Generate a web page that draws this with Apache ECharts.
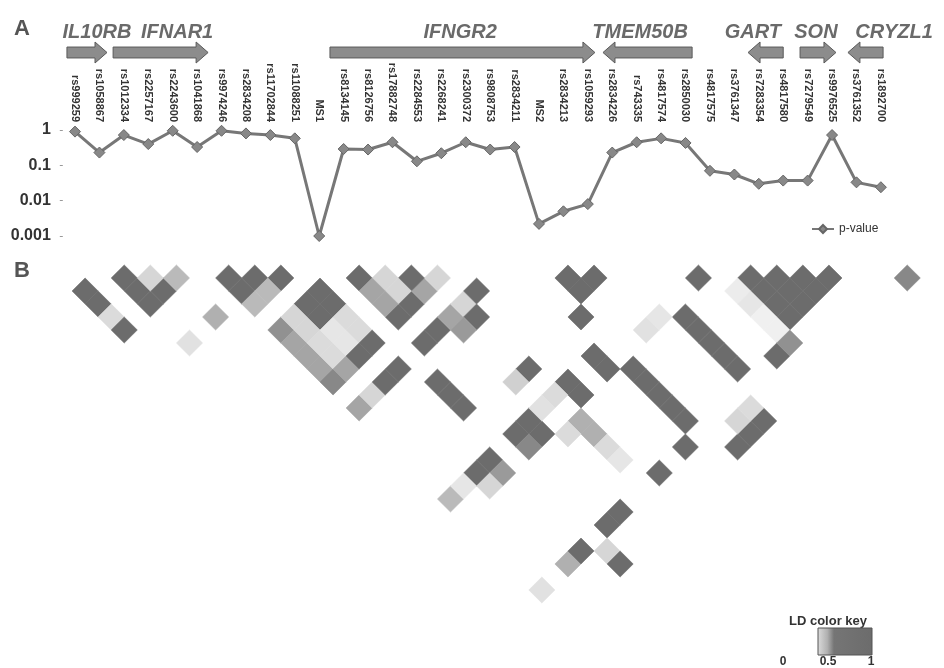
<!DOCTYPE html>
<html><head><meta charset="utf-8">
<script src="https://cdn.jsdelivr.net/npm/echarts/dist/echarts.min.js"></script>
<style>html,body{margin:0;padding:0;background:#fff}#c{width:944px;height:668px}</style>
</head><body><div id="c"></div>
<script>
const markers = ['rs999259','rs1058867','rs1012334','rs2257167','rs2243600','rs1041868','rs9974246','rs2834208','rs11702844','rs11088251','MS1','rs8134145','rs8126756','rs17882748','rs2284553','rs2268241','rs2300372','rs9808753','rs2834211','MS2','rs2834213','rs1059293','rs2834226','rs743335','rs4817574','rs2850030','rs4817575','rs3761347','rs7283354','rs4817580','rs7279549','rs9976525','rs3761352','rs1892700'];
const pValues = [0.9,0.23,0.72,0.4,0.95,0.33,0.95,0.8,0.72,0.58,0.001,0.29,0.28,0.45,0.13,0.22,0.45,0.28,0.33,0.0022,0.005,0.008,0.23,0.45,0.58,0.43,0.07,0.055,0.03,0.037,0.037,0.72,0.033,0.024];
const yTickLabels = ['0.001','0.01','0.1','1'];

const geneNames  = ['IL10RB','IFNAR1','IFNGR2','TMEM50B','GART','SON','CRYZL1'];
const geneStart  = [-0.33, 1.56, 10.44, 21.62, 27.56, 29.69, 31.65];
const geneEnd    = [1.31, 5.45, 21.29, 25.27, 29.0, 31.16, 33.09];
const geneStrand = [1, 1, 1, -1, -1, 1, -1];
const geneLabelAt = [0.90, 4.18, 15.77, 23.14, 27.76, 30.34, 33.54];

// LD cells: [marker i, marker j, LD value]
const ldPairs = [
 [0,2,1],[0,3,1],[0,4,0.4],[0,5,1],
 [2,3,1],[2,4,1],[2,5,1],[3,5,1],[3,4,0.45],[4,5,0.6],
 [4,8,0.65],[2,8,0.35],
 [6,7,1],[7,8,1],[8,9,1],[6,8,1],[7,9,0.6],[6,9,0.6],
 [8,11,1],[8,12,1],[9,11,1],[9,12,1],
 [6,11,0.8],[7,11,0.45],[6,12,0.7],[7,12,0.45],[6,13,0.7],[7,13,0.4],[6,14,0.7],[7,14,0.4],[8,13,0.3],[8,14,0.3],[9,13,0.4],[9,14,0.4],
 [6,15,0.85],[7,15,0.7],[8,15,1],[9,15,1],[11,15,1],[12,15,1],[13,15,0.7],[14,15,0.45],
 [11,12,1],[12,13,0.45],[13,14,1],[11,13,0.7],[12,14,0.45],[11,14,0.7],
 [6,17,0.7],[7,17,0.45],[8,17,1],[9,17,1],[11,17,1],[12,17,1],[13,17,0.7],[14,17,0.45],[15,17,1],
 [14,18,1],[13,18,0.75],
 [10,19,1],[10,20,1],[10,21,1],
 [19,20,1],[20,21,1],[19,21,1],[18,22,1],
 [14,22,1],[13,22,0.5],
 [15,24,1],[15,25,1],[17,24,1],[17,25,1],
 [18,26,1],[18,27,1],[18,28,1],[18,29,1],[18,30,1],
 [22,26,1],[22,27,1],[22,28,1],[22,29,1],[22,30,1],
 [20,25,0.35],[21,25,0.3],
 [24,25,1],
 [26,27,1],[27,28,1],[28,29,1],[29,30,1],[26,28,1],[27,29,1],[28,30,1],[26,29,1],[27,30,1],[26,30,1],
 [25,27,0.25],[25,28,0.3],[25,29,0.2],[25,30,0.2],
 [24,31,1],[25,31,0.8],
 [32,33,0.85],
 [11,24,1],[12,24,1],[12,25,1],[11,25,0.85],
 [8,24,1],[9,24,1],[9,25,0.75],[8,25,0.45],
 [6,24,0.6],[7,24,0.3],
 [14,24,0.4],[13,24,0.35],[14,26,0.65],[14,27,0.65],[13,26,0.4],[14,28,0.4],[14,29,0.3],
 [6,31,0.35],[8,31,0.65],[9,31,1],[11,31,1],[12,31,1],[15,31,1],[17,31,1],
 [10,32,0.45],[10,33,1],
 [19,33,1],[20,33,1],[21,33,1],[20,32,0.45],[21,32,0.4]
];
const ldKeyTicks = ['0','0.5','1'];
const ldColors = ['#ffffff','#ececec','#d0d0d0','#9a9a9a','#6c6c6c'];

const chart = echarts.init(document.getElementById('c'), null, {renderer:'canvas'});
const nM = markers.length;
const topLeft = 62.8, topWidth = 830.3;
const FF = "'Liberation Sans',Arial,sans-serif";

const option = {
  animation:false,
  backgroundColor:'#fff',
  grid:[
    {left:topLeft, width:topWidth, top:130, height:106},
    {left:topLeft, width:topWidth, top:42, height:21},
    {left:59, width:861.3, top:265, height:364}
  ],
  xAxis:[
    {type:'category', gridIndex:0, data:markers, position:'top', boundaryGap:true,
     axisLine:{show:false}, axisTick:{show:false}, splitLine:{show:false},
     axisLabel:{interval:0, rotate:90, margin:8, fontSize:11, fontWeight:'bold', color:'#333', fontFamily:FF}},
    {type:'value', gridIndex:1, min:-0.5, max:nM-0.5, show:false},
    {type:'value', gridIndex:2, min:0, max:66, show:false}
  ],
  yAxis:[
    {type:'log', gridIndex:0, logBase:10, min:0.001, max:1,
     axisLine:{show:false}, splitLine:{show:false},
     axisTick:{show:true, length:3, lineStyle:{color:'#999'}},
     axisLabel:{fontSize:16, fontWeight:'bold', color:'#333', margin:12, fontFamily:FF,
       formatter:(v)=>{ const k=Math.round(Math.log10(v))+3; return yTickLabels[k]!==undefined?yTickLabels[k]:''; }}},
    {type:'value', gridIndex:1, min:0, max:1, show:false},
    {type:'value', gridIndex:2, min:0, max:28, inverse:true, show:false}
  ],
  legend:{data:['p-value'], left:806, top:218, itemWidth:22, itemHeight:10,
    textStyle:{fontSize:12, color:'#333', fontFamily:FF}},
  visualMap:{show:false, type:'continuous', seriesIndex:2, dimension:2, min:0, max:1, inRange:{color:ldColors}},
  series:[
    {name:'p-value', type:'line', xAxisIndex:0, yAxisIndex:0, data:pValues,
     symbol:'diamond', symbolSize:11,
     lineStyle:{color:'#777', width:3},
     itemStyle:{color:'#888', borderColor:'#666', borderWidth:1}},
    {type:'custom', xAxisIndex:1, yAxisIndex:1, silent:true,
     data: geneNames.map((n,k)=>[geneStart[k], geneEnd[k], geneStrand[k], geneLabelAt[k]]),
     renderItem:(params, api)=>{
       const s=api.value(0), e=api.value(1), dir=api.value(2), la=api.value(3);
       const p0=api.coord([s,1]), p1=api.coord([e,0]);
       const yTop=p0[1], yBot=p1[1], h=yBot-yTop;
       const bt=yTop+h*0.24, bb=yTop+h*0.76, mid=(yTop+yBot)/2;
       const head=12;
       const x0=p0[0], x1=p1[0];
       let pts;
       if(dir>0){ const xh=x1-head; pts=[[x0,bt],[xh,bt],[xh,yTop],[x1,mid],[xh,yBot],[xh,bb],[x0,bb]]; }
       else { const xh=x0+head; pts=[[x1,bt],[xh,bt],[xh,yTop],[x0,mid],[xh,yBot],[xh,bb],[x1,bb]]; }
       const lab=api.coord([la,1]);
       return {type:'group', children:[
         {type:'polygon', shape:{points:pts}, style:{fill:'#8c8c8c', stroke:'#5a5a5a', lineWidth:1}},
         {type:'text', x:lab[0], y:yTop-10, style:{text:geneNames[params.dataIndex], fontSize:20, fontWeight:'bold', fontStyle:'italic',
           fontFamily:FF, fill:'#6a6a6a', align:'center', verticalAlign:'middle'}}
       ]};
     }},
    {type:'custom', xAxisIndex:2, yAxisIndex:2, silent:true,
     data: ldPairs.map(([i,j,v])=>[i+j, j-i, v]),
     encode:{x:0, y:1},
     renderItem:(params, api)=>{
       const u=api.value(0), r=api.value(1);
       const L=api.coord([u-1,r]), T=api.coord([u,r-1]), R=api.coord([u+1,r]), B=api.coord([u,r+1]);
       const c=api.visual('color');
       return {type:'polygon', shape:{points:[L,T,R,B]}, style:{fill:c, stroke:c, lineWidth:0.6}};
     }}
  ],
  graphic:[
    {type:'text', left:14, top:18, style:{text:'A', fontSize:22, fontWeight:'bold', fill:'#555', fontFamily:FF}},
    {type:'text', left:14, top:260, style:{text:'B', fontSize:22, fontWeight:'bold', fill:'#555', fontFamily:FF}},
    {type:'text', x:828, y:621, style:{text:'LD color key', fontSize:13, fontWeight:'bold', fill:'#333', align:'center', verticalAlign:'middle', fontFamily:FF}},
    {type:'rect', shape:{x:818, y:628, width:54, height:27},
     style:{fill:new echarts.graphic.LinearGradient(0,0,1,0,[
        {offset:0,color:'#dcdcdc'},{offset:0.18,color:'#b0b0b0'},{offset:0.3,color:'#757575'},{offset:1,color:'#6c6c6c'}]),
        stroke:'#555', lineWidth:1}},
    {type:'text', x:783, y:662, style:{text:ldKeyTicks[0], fontSize:12, fontWeight:'bold', fill:'#333', align:'center', verticalAlign:'middle', fontFamily:FF}},
    {type:'text', x:828, y:662, style:{text:ldKeyTicks[1], fontSize:12, fontWeight:'bold', fill:'#333', align:'center', verticalAlign:'middle', fontFamily:FF}},
    {type:'text', x:871, y:662, style:{text:ldKeyTicks[2], fontSize:12, fontWeight:'bold', fill:'#333', align:'center', verticalAlign:'middle', fontFamily:FF}}
  ]
};
chart.setOption(option);
</script>
</body></html>
